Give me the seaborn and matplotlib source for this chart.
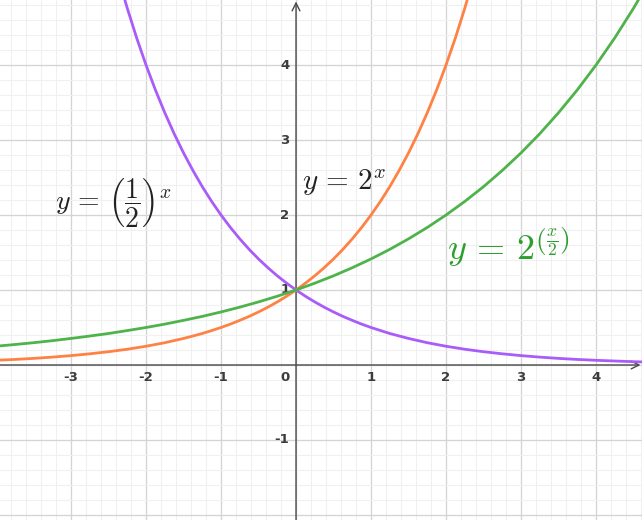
import seaborn as sns
import matplotlib.pyplot as plt
import numpy as np

# values
x_half = [-2.5, -2.375, -2.25, -2.125, -2, -1.875, -1.75, -1.625, -1.5, -1.375, -1.25, -1.125,
          -1, -0.875, -0.75, -0.625, -0.5, -0.375, -0.25, -0.125, 0, 0.125, 0.25, 0.375, 0.5,
          0.625, 0.75, 0.875, 1, 1.25, 1.5, 1.75, 2, 2.25, 2.5, 2.75, 3, 3.25, 3.5, 3.75,
          4, 4.25, 4.5, 4.75]
y_half = [5.657, 5.187, 4.757, 4.362, 4.0, 3.668, 3.364, 3.084, 2.828, 2.594, 2.378, 2.181,
          2.0, 1.834, 1.682, 1.542, 1.414, 1.297, 1.189, 1.091, 1.0, 0.917, 0.841, 0.771, 0.707,
          0.648, 0.595, 0.545, 0.5, 0.420, 0.354, 0.297, 0.25, 0.210, 0.177, 0.149, 0.125, 0.105, 0.088, 0.074,
          0.0625, 0.053, 0.044, 0.037]

x_two = [-4, -3.75, -3.5, -3.25, -3, -2.75, -2.5, -2.25, -2, -1.75, -1.5, -1.375, -1.25, -1.125,
         -1, -0.875, -0.75, -0.625, -0.5, -0.375, -0.25, -0.125, 0, 0.125, 0.25, 0.375, 0.5,
         0.625, 0.75, 0.875, 1, 1.125, 1.25, 1.375, 1.5, 1.625, 1.75, 1.875, 2, 2.125, 2.25,
         2.375, 2.5]
y_two = [0.0625, 0.074, 0.088, 0.105, 0.125, 0.149, 0.177, 0.210, 0.25, 0.297, 0.354, 0.386, 0.420, 0.459,
         0.5, 0.545, 0.595, 0.648, 0.707, 0.771, 0.841, 0.917, 1.0, 1.091, 1.189, 1.297, 1.414,
         1.542, 1.682, 1.834, 2.0, 2.181, 2.378, 2.594, 2.828, 3.084, 3.364, 3.668, 4.0, 4.362, 4.757,
         5.187, 5.657]

x_sqrt = [-4, -3.75, -3.5, -3.25, -3, -2.75, -2.5, -2.25, -2, -1.75, -1.5, -1.25, -1, -0.75,
          -0.5, -0.25, 0, 0.25, 0.5, 0.75, 1, 1.25, 1.5, 1.75, 2, 2.25, 2.5, 2.75, 3, 3.25,
          3.5, 3.75, 4, 4.25, 4.5, 4.75]
y_sqrt = [0.25, 0.273, 0.297, 0.324, 0.354, 0.386, 0.420, 0.459, 0.5, 0.545, 0.595, 0.648, 0.707, 0.771,
          0.841, 0.917, 1.0, 1.091, 1.189, 1.297, 1.414, 1.542, 1.682, 1.834, 2.0, 2.181, 2.378, 2.594, 2.828, 3.084,
          3.364, 3.668, 4.0, 4.362, 4.757, 5.187]

x_ticks = [-3, -2, -1, 1, 2, 3, 4]
y_ticks = [-1, 1, 2, 3, 4]

sns.set_style('white')
plt.rcParams['mathtext.fontset'] = 'cm'

fig = plt.figure(figsize=(6.42, 5.2), dpi=100)
ax = fig.add_axes([0, 0, 1, 1])

xmin, xmax = -3.947, 4.613
ymin, ymax = -2.067, 4.867

line = dict(lw=2.0, sort=False, ax=ax, zorder=5, solid_joinstyle='round', solid_capstyle='round')
sns.lineplot(x=x_half, y=y_half, color='#a95cfa', **line)
sns.lineplot(x=x_two, y=y_two, color='#ff8245', **line)
sns.lineplot(x=x_sqrt, y=y_sqrt, color='#4fb34b', **line)

ax.set_xlim(xmin, xmax)
ax.set_ylim(ymin, ymax)

ax.set_xticks(np.arange(-3, 5, 1))
ax.set_yticks(np.arange(-2, 5, 1))
ax.set_xticks(np.arange(-3.8, 4.7, 0.2), minor=True)
ax.set_yticks(np.arange(-2, 4.9, 0.2), minor=True)
ax.grid(which='major', color='#d4d4d4', lw=0.95)
ax.grid(which='minor', color='#f0f0f0', lw=0.75)
ax.set_axisbelow(True)
ax.tick_params(which='both', length=0, labelbottom=False, labelleft=False)
for s in ax.spines.values():
    s.set_visible(False)

# axes with arrows
arrow = dict(arrowstyle='->', color='#4a4a4a', lw=1.0, shrinkA=0, shrinkB=0,
             mutation_scale=14)
ax.annotate('', xy=(xmax - 0.02, 0), xytext=(xmin, 0), arrowprops=arrow, zorder=3)
ax.annotate('', xy=(0, ymax - 0.02), xytext=(0, ymin), arrowprops=arrow, zorder=3)

lab = dict(fontsize=9.5, fontweight='bold', color='#3c3c3c')
for t in x_ticks:
    ax.text(t, -0.17, str(t), ha='center', va='center', **lab)
for t in y_ticks:
    ax.text(-0.09, t, str(t), ha='right', va='center', **lab)
ax.text(-0.09, -0.17, '0', ha='right', va='center', **lab)

ax.text(-3.21, 2.08, r'$y\,=\,\left(\dfrac{1}{2}\right)^{x}$', fontsize=20,
        color='#222222', ha='left', va='baseline')
ax.text(0.08, 2.33, r'$y\,=\,2^{x}$', fontsize=21, color='#222222',
        ha='left', va='baseline')
ax.text(2.01, 1.4, r'$y\,=\,2^{\left(\frac{x}{2}\right)}$', fontsize=26,
        color='#2e9e2e', ha='left', va='baseline')

plt.savefig('out.png', dpi=100)
